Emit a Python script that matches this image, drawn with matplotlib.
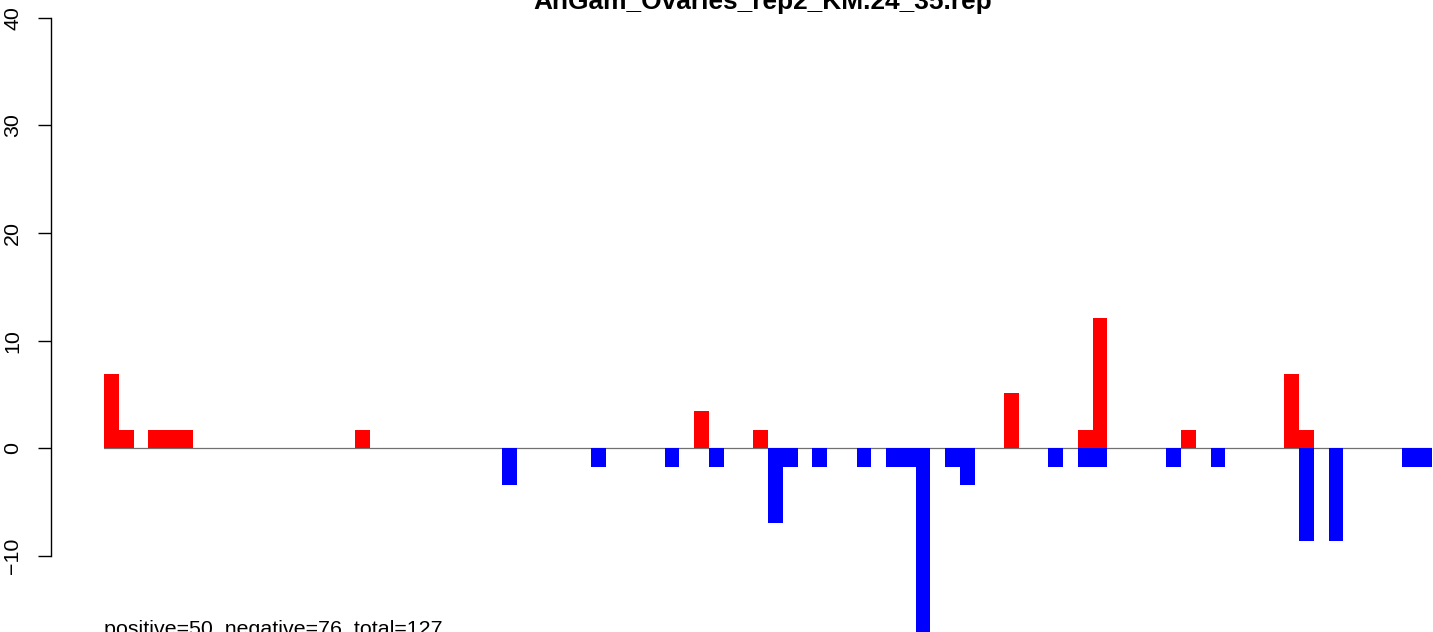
import numpy as np
import matplotlib
matplotlib.use('Agg')
import matplotlib.pyplot as plt

plt.rcParams['font.family'] = ['Liberation Sans', 'DejaVu Sans']

title = 'AnGam_Ovaries_rep2_KM.24_35.rep'
summary = 'positive=50, negative=76, total=127'

# bin index -> value
pos_bins = [0, 1, 3, 4, 5, 17, 40, 44, 61, 66, 67, 73, 80, 81]
pos_vals = [6.9, 1.72, 1.72, 1.72, 1.72, 1.72, 3.45, 1.72, 5.17, 1.72, 12.07, 1.72, 6.9, 1.72]

neg_bins = [27, 33, 38, 41, 45, 46, 48, 51, 53, 54, 55, 57, 58, 64, 66, 67, 72, 75, 81, 83, 88, 89]
neg_vals = [-3.45, -1.72, -1.72, -1.72, -6.9, -1.72, -1.72, -1.72, -1.72, -1.72, -19.0, -1.72,
            -3.45, -1.72, -1.72, -1.72, -1.72, -1.72, -8.62, -8.62, -1.72, -1.72]

n_bins = 90
yticks = [-10, 0, 10, 20, 30, 40]

W, H = 1433, 632
fig = plt.figure(figsize=(W / 100, H / 100), dpi=100)
ax = fig.add_axes([104 / W, 0, (1432 - 104) / W, 1])

ax.axhline(0, color='#707070', lw=0.9, zorder=1)
ax.bar(pos_bins, pos_vals, width=1, align='edge', color='red', zorder=2)
ax.bar(neg_bins, neg_vals, width=1, align='edge', color='blue', zorder=2)

ax.set_xlim(0, n_bins)
ax.set_ylim(-17.07, 41.66)

for s in ['top', 'right', 'bottom']:
    ax.spines[s].set_visible(False)
ax.spines['left'].set_position(('outward', 38.4))
ax.spines['left'].set_bounds(-10, 40)
ax.spines['left'].set_linewidth(1.0)
ax.set_xticks([])
ax.set_yticks(yticks)
ax.set_yticklabels([str(t).replace('-', '\u2212') for t in yticks], rotation=90, va='center',
                   fontsize=15.4)
ax.tick_params(axis='y', length=9.4, width=1.0, pad=11)

fig.text(763 / W, 1 - 9.5 / H, title, ha='center', va='baseline', fontsize=18.9, fontweight='bold')
fig.text(104 / W, -3 / H, summary, ha='left', va='baseline', fontsize=15.4)

fig.savefig('out.png', dpi=100)
